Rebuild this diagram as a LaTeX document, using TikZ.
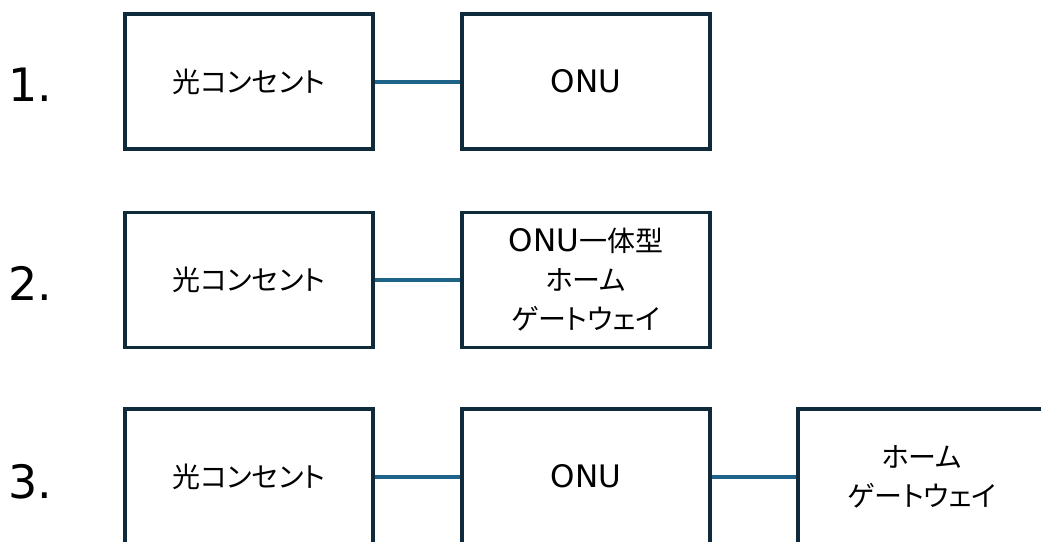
\documentclass[tikz,border=0pt]{standalone}
\usepackage{fontspec}
\setmainfont{DejaVu Sans}
\newfontfamily\jp{Noto Sans CJK JP}[RawFeature=+palt]
\definecolor{boxc}{HTML}{0F2A3A}
\definecolor{linec}{HTML}{1E6488}
\newcommand\jpt{\jp\fontsize{28}{39}\selectfont}
\newcommand\lat[1]{{\rmfamily\fontsize{31}{39}\selectfont #1}}
\begin{document}
\begin{tikzpicture}[x=1pt,y=-1pt,
  box/.style={draw=boxc, line width=3.8pt, minimum width=248pt, minimum height=135pt, inner sep=0pt, align=center, font=\jpt},
  conn/.style={draw=linec, line width=4pt},
  num/.style={anchor=base west, inner sep=0pt, font=\fontsize{46}{46}\selectfont}]
\useasboundingbox (0,0) rectangle (1041,541);
\clip (0,0) rectangle (1041,541);
\fill[white] (0,0) rectangle (1041,541);
% row 1
\node[num] (n1) at (8,101) {1.};
\node[box] (a1) at (249,81.5) {光コンセント};
\node[box] (b1) at (586,81.5) {\lat{ONU}};
\draw[conn] (a1.east) -- (b1.west);
% row 2
\node[num] (n2) at (8,300) {2.};
\node[box] (a2) at (249,280) {光コンセント};
\node[box] (b2) at (586,280) {\lat{ONU}一体型\\ホーム\\ゲートウェイ};
\draw[conn] (a2.east) -- (b2.west);
% row 3
\node[num] (n3) at (8,498) {3.};
\node[box] (a3) at (249,476.5) {光コンセント};
\node[box] (b3) at (586,476.5) {\lat{ONU}};
\node[box] (c3) at (922,476.5) {ホーム\\ゲートウェイ};
\draw[conn] (a3.east) -- (b3.west);
\draw[conn] (b3.east) -- (c3.west);
\end{tikzpicture}
\end{document}
